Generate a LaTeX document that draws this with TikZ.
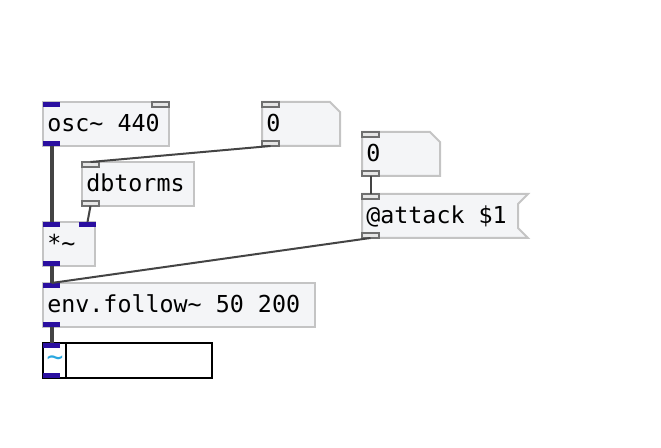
\documentclass[tikz,border=0pt]{standalone}
\usepackage{fontspec}
\setmonofont{DejaVu Sans Mono}
\usepackage{tikz}

\definecolor{boxfill}{HTML}{F4F5F7}
\definecolor{boxline}{HTML}{C4C4C4}
\definecolor{sigblue}{HTML}{2A0FA0}
\definecolor{ctlfill}{HTML}{E6E6E6}
\definecolor{ctlline}{HTML}{707070}
\definecolor{cordgray}{HTML}{444444}
\definecolor{tildecyan}{HTML}{2AA8E0}

\begin{document}
\begin{tikzpicture}[x=0.75pt, y=-0.75pt,
		box/.style={draw=boxline, fill=boxfill, line width=1.5pt},
		lbl/.style={anchor=base west, inner sep=0pt, font=\ttfamily\fontsize{17.5}{20}\selectfont},
		port/.style={minimum width=12.75pt, minimum height=3.75pt, inner sep=0pt, outer sep=0pt, anchor=north west},
		sigport/.style={port, fill=sigblue},
		ctlport/.style={port, fill=ctlfill, draw=ctlline, line width=0.9pt},
		sigcord/.style={draw=cordgray, line width=3pt},
		ctlcord/.style={draw=cordgray, line width=1.5pt}]
	\useasboundingbox (0,0) rectangle (661,448);

	% object and atom boxes
	\draw[box] (43,102) rectangle (169,146);
	\draw[box] (262,102) -- (330,102) -- (340,112) -- (340,146) -- (262,146) -- cycle;
	\draw[box] (82,162) rectangle (194,206);
	\draw[box] (362,132) -- (430,132) -- (440,142) -- (440,176) -- (362,176) -- cycle;
	\draw[box] (362,194) -- (528,194) -- (518,204) -- (518,228) -- (528,238) -- (362,238) -- cycle;
	\draw[box] (43,222) rectangle (95,266);
	\draw[box] (43,283) rectangle (315,327);
	\draw[black, fill=white, line width=1.5pt] (43,343) rectangle (212,378);
	\draw[black, line width=1.1pt] (66,343) -- (66,378);

	\node[lbl] (osc) at (47,132) {osc\textasciitilde{} 440};
	\node[lbl] (numa) at (266,132) {0};
	\node[lbl] (dbt) at (86,192) {dbtorms};
	\node[lbl] (numb) at (366,162) {0};
	\node[lbl] (msg) at (366,224) {@attack \$1};
	\node[lbl] (mul) at (47,252) {*\textasciitilde};
	\node[lbl] (env) at (47,313) {env.follow\textasciitilde{} 50 200};
	\node[lbl, text=tildecyan, anchor=center, font=\ttfamily\fontsize{21}{22}\selectfont] (sig) at (55,361) {\textasciitilde};

	% inlets and outlets
	\foreach \nm/\px/\py in {osc-i/43/102, osc-o/43/141, mul-i/43/222, mul-j/79/222,
			mul-o/43/261, env-i/43/283, env-o/43/322, sig-i/43/343, sig-o/43/373}
		\node[sigport] (\nm) at (\px,\py) {};
	\foreach \nm/\px/\py in {osc-j/152/102, numa-i/262/102, numa-o/262/141, dbt-i/82/162,
			dbt-o/82/201, numb-i/362/132, numb-o/362/171, msg-i/362/194, msg-o/362/233}
		\node[ctlport] (\nm) at (\px,\py) {};

	% cords
	\draw[sigcord] (osc-o.south) -- (mul-i.north);
	\draw[sigcord] (mul-o.south) -- (env-i.north);
	\draw[sigcord] (env-o.south) -- (sig-i.north);
	\draw[ctlcord] (numa-o.south) -- (dbt-i.north);
	\draw[ctlcord] (dbt-o.south) -- (mul-j.north);
	\draw[ctlcord] (numb-o.south) -- (msg-i.north);
	\draw[ctlcord] (msg-o.south) -- (env-i.north);
\end{tikzpicture}
\end{document}
